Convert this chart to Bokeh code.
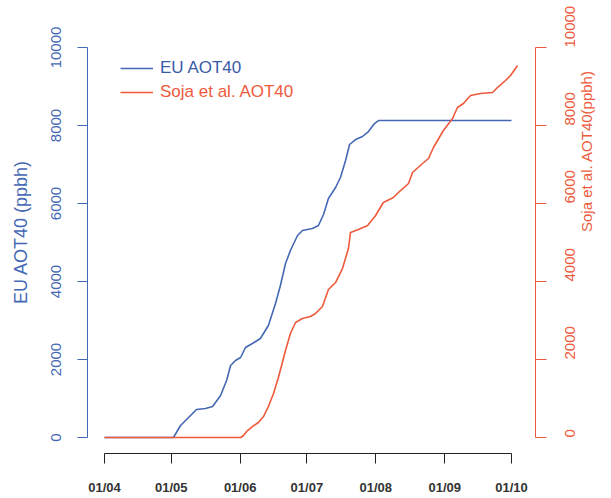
import math
from bokeh.plotting import figure
from bokeh.models import LinearAxis, Range1d, FixedTicker, Legend, LegendItem
from bokeh.embed import file_html
from bokeh.resources import INLINE

# days since 01/04
eu_days = [0, 30.1, 31, 34.2, 39.6, 41.4, 45.4, 48.6, 52.2, 54.9, 56.7, 58.9, 61.2, 63.4, 66.5, 70.1,
           73.7, 76.9, 79.1, 81.4, 83.6, 86.8, 89, 93.5, 96.2, 98.5, 100.7, 103.9, 106.1, 108.4,
           110.2, 112.9, 116, 118.7, 121.4, 123.2, 183]
eu_values = [0, 0, 0, 308, 615, 718, 744, 795, 1077, 1462, 1846, 1974, 2051, 2308, 2410, 2538,
             2872, 3436, 3897, 4462, 4795, 5180, 5308, 5359, 5436, 5718, 6128, 6410, 6667, 7103,
             7513, 7641, 7718, 7846, 8051, 8128, 8128]

soja_days = [0, 61.2, 62.5, 64.3, 66.5, 69.2, 71.5, 73.7, 76, 78.2, 81.4, 83.6, 85.9, 89, 92.6,
             94.9, 98, 100.7, 103.9, 107, 109.7, 110.6, 114.2, 118.3, 121.9, 125.4, 129.9, 133.1,
             136.7, 138.5, 143, 145.7, 147.9, 152.4, 156.5, 158.7, 161.4, 164.6, 169.1, 174.5,
             176.7, 180.3, 182.6, 185.7]
soja_values = [0, 0, 51, 179, 282, 385, 538, 795, 1128, 1538, 2231, 2667, 2949, 3051, 3103,
               3179, 3359, 3795, 3974, 4333, 4846, 5256, 5333, 5436, 5692, 6026, 6154, 6333,
               6513, 6795, 7026, 7154, 7436, 7872, 8179, 8462, 8564, 8769, 8821, 8846,
               8974, 9154, 9282, 9538]

tick_days = [0, 30, 61, 91, 122, 153, 183]
tick_labels = ["01/04", "01/05", "01/06", "01/07", "01/08", "01/09", "01/10"]
y_ticks = [0, 2000, 4000, 6000, 8000, 10000]

BLUE = "#4468b4"
BLUE_TXT = "#3a5aa8"
RED = "#ee5a3c"
FONT = "Liberation Sans"

p = figure(width=611, height=498,
           x_range=Range1d(-7.64, 193.8), y_range=Range1d(-410, 10949),
           min_border_left=87, min_border_right=76, min_border_top=10, min_border_bottom=45,
           x_axis_location=None, y_axis_location=None,
           toolbar_location=None, output_backend="svg")
p.outline_line_color = None
p.grid.visible = False
p.extra_y_ranges = {"soja": Range1d(-410, 10949)}

eu = p.line(eu_days, eu_values, line_color=BLUE, line_width=1.6)
soja = p.line(soja_days, soja_values, line_color=RED, line_width=1.6, y_range_name="soja")

xaxis = LinearAxis(ticker=FixedTicker(ticks=tick_days),
                   major_label_overrides={d: l for d, l in zip(tick_days, tick_labels)},
                   bounds=(tick_days[0], tick_days[-1]),
                   axis_line_color="#222222", major_tick_line_color="#222222",
                   major_tick_in=0, major_tick_out=10, minor_tick_out=0, minor_tick_in=0,
                   major_label_standoff=16,
                   major_label_text_font=FONT, major_label_text_font_size="13px",
                   major_label_text_font_style="bold", major_label_text_color="#333333")
p.add_layout(xaxis, "below")

yleft = LinearAxis(ticker=FixedTicker(ticks=y_ticks), bounds=(0, 10000),
                   axis_label="EU AOT40 (ppbh)",
                   axis_line_color=BLUE, major_tick_line_color=BLUE,
                   major_tick_in=0, major_tick_out=10, minor_tick_out=0, minor_tick_in=0,
                   major_label_orientation="vertical", major_label_standoff=16,
                   major_label_text_font=FONT, major_label_text_font_size="15px",
                   major_label_text_color=BLUE,
                   axis_label_text_font=FONT, axis_label_text_font_size="18px",
                   axis_label_text_font_style="normal", axis_label_text_color=BLUE,
                   axis_label_standoff=18)
p.add_layout(yleft, "left")

yright = LinearAxis(ticker=FixedTicker(ticks=y_ticks), bounds=(0, 10000), y_range_name="soja",
                    axis_label="Soja et al. AOT40(ppbh)",
                    axis_line_color=RED, major_tick_line_color=RED,
                    major_tick_in=0, major_tick_out=11, minor_tick_out=0, minor_tick_in=0,
                    major_label_orientation=math.pi / 2, major_label_standoff=24,
                    major_label_text_font=FONT, major_label_text_font_size="15px",
                    major_label_text_color=RED,
                    axis_label_orientation=math.pi / 2,
                    axis_label_text_font=FONT, axis_label_text_font_size="15px",
                    axis_label_text_font_style="normal", axis_label_text_color=RED,
                    axis_label_standoff=3)
p.add_layout(yright, "right")

leg1 = Legend(items=[LegendItem(label="EU AOT40", renderers=[eu])],
              location=(33, 375), padding=0, margin=0, spacing=0,
              border_line_alpha=0, background_fill_alpha=0,
              glyph_width=33, label_standoff=7,
              label_text_font=FONT, label_text_font_size="17px", label_text_color=BLUE_TXT)
leg2 = Legend(items=[LegendItem(label="Soja et al. AOT40", renderers=[soja])],
              location=(33, 351), padding=0, margin=0, spacing=0,
              border_line_alpha=0, background_fill_alpha=0,
              glyph_width=33, label_standoff=7,
              label_text_font=FONT, label_text_font_size="17px", label_text_color=RED)
p.add_layout(leg1, "center")
p.add_layout(leg2, "center")

open("out.html", "w").write(file_html(p, INLINE))
